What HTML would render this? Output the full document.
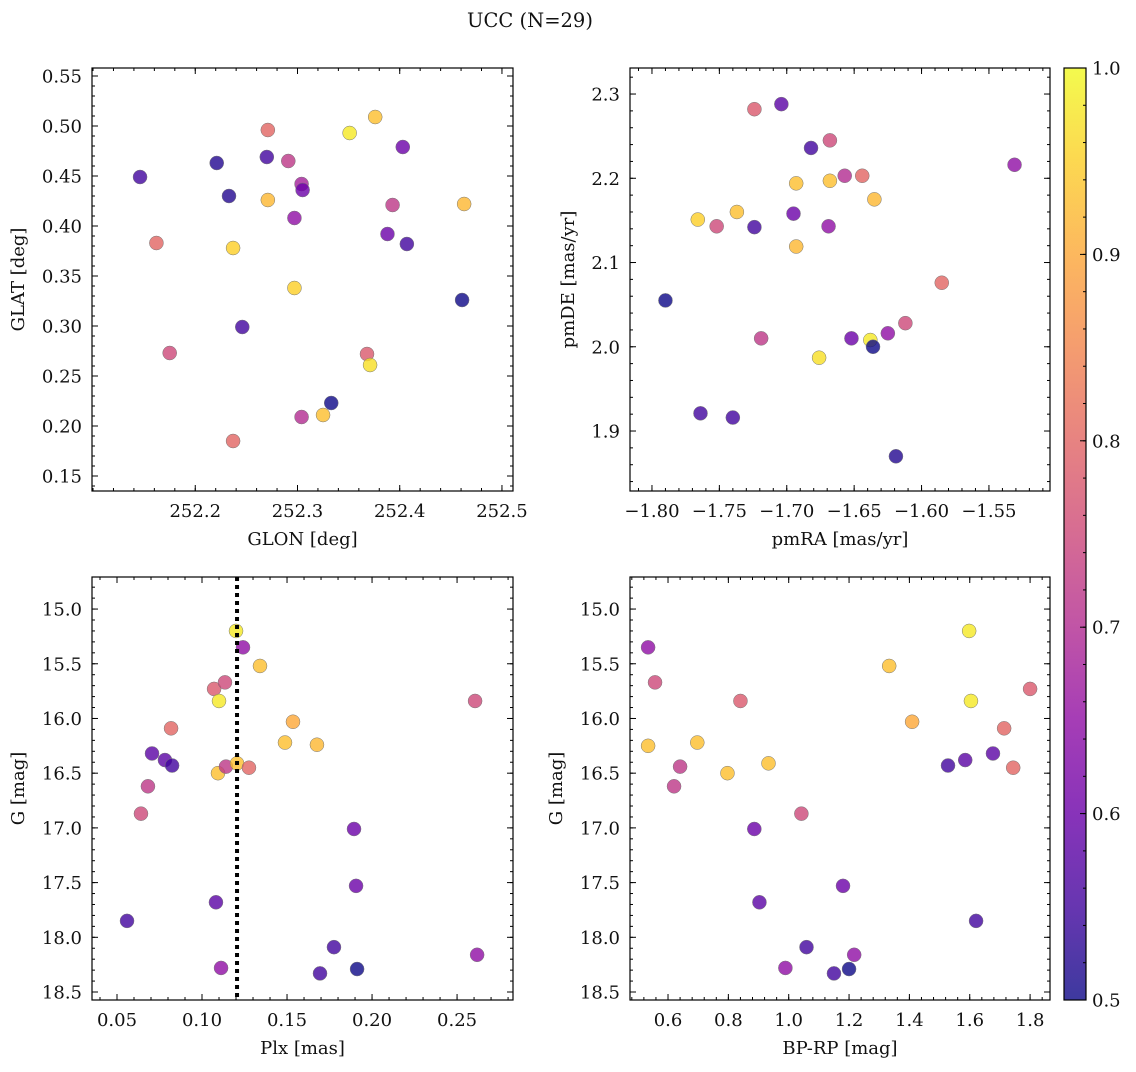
<!DOCTYPE html>
<html><head><meta charset="utf-8"><style>
body{margin:0;background:#fff;}
svg text{font-family:"DejaVu Serif","Liberation Serif",serif;fill:#111;}
</style></head><body>
<svg id="fig" width="1136" height="1067" xmlns="http://www.w3.org/2000/svg">
<text x="530" y="27" font-size="19.5" text-anchor="middle">UCC (N=29)</text>
</svg>
<script>
// ---- data ----
const glon=[252.146,252.162,252.175,252.221,252.233,252.237,252.237,252.246,252.271,252.270,252.271,252.291,252.297,252.297,252.304,252.305,252.304,252.325,252.333,252.351,252.368,252.371,252.376,252.388,252.393,252.403,252.407,252.461,252.463];
const glat=[0.449,0.383,0.273,0.463,0.430,0.378,0.185,0.299,0.496,0.469,0.426,0.465,0.408,0.338,0.442,0.436,0.209,0.211,0.223,0.493,0.272,0.261,0.509,0.392,0.421,0.479,0.382,0.326,0.422];
const prob1=[0.55,0.8,0.75,0.52,0.52,0.95,0.8,0.55,0.8,0.55,0.92,0.72,0.65,0.95,0.68,0.6,0.7,0.93,0.5,0.98,0.78,0.97,0.93,0.6,0.72,0.6,0.55,0.5,0.92];
const pmra=[-1.790,-1.766,-1.764,-1.752,-1.737,-1.740,-1.724,-1.724,-1.704,-1.719,-1.695,-1.693,-1.693,-1.676,-1.669,-1.668,-1.668,-1.682,-1.657,-1.652,-1.644,-1.635,-1.638,-1.636,-1.625,-1.619,-1.612,-1.585,-1.531];
const pmde=[2.055,2.151,1.921,2.143,2.16,1.916,2.282,2.142,2.288,2.01,2.158,2.194,2.119,1.987,2.143,2.245,2.197,2.236,2.203,2.01,2.203,2.175,2.008,2.0,2.016,1.87,2.028,2.076,2.216];
const prob2=[0.5,0.95,0.55,0.75,0.93,0.55,0.78,0.55,0.58,0.72,0.6,0.93,0.92,0.97,0.65,0.75,0.93,0.55,0.7,0.6,0.8,0.92,0.98,0.5,0.65,0.52,0.75,0.8,0.65];
const plx=[0.0559,0.0641,0.0682,0.0706,0.0782,0.0818,0.0824,0.1071,0.1082,0.110,0.1094,0.1112,0.1135,0.1141,0.120,0.1206,0.1241,0.1276,0.1341,0.1488,0.1535,0.1676,0.1694,0.1776,0.1894,0.1906,0.1912,0.2606,0.2618];
const gmag3=[17.85,16.87,16.62,16.32,16.38,16.09,16.43,15.73,17.68,15.84,16.5,18.28,15.67,16.44,15.2,16.41,15.35,16.45,15.52,16.22,16.03,16.24,18.33,18.09,17.01,17.53,18.29,15.84,18.16];
const prob3=[0.55,0.75,0.72,0.58,0.58,0.8,0.55,0.78,0.58,0.98,0.93,0.65,0.75,0.72,0.98,0.93,0.65,0.8,0.93,0.93,0.9,0.92,0.55,0.55,0.6,0.6,0.5,0.75,0.65];
const plxRef=[0.1206];
const bprp=[0.534,0.534,0.557,0.620,0.640,0.697,0.797,0.840,0.886,0.903,0.933,0.989,1.042,1.059,1.150,1.180,1.200,1.217,1.333,1.409,1.528,1.585,1.598,1.604,1.621,1.677,1.714,1.744,1.800];
const gmag4=[15.35,16.25,15.67,16.62,16.44,16.22,16.5,15.84,17.01,17.68,16.41,18.28,16.87,18.09,18.33,17.53,18.29,18.16,15.52,16.03,16.43,16.38,15.2,15.84,17.85,16.32,16.09,16.45,15.73];
const prob4=[0.65,0.93,0.75,0.72,0.72,0.93,0.93,0.78,0.6,0.58,0.93,0.65,0.75,0.55,0.55,0.6,0.5,0.65,0.93,0.9,0.55,0.58,0.98,0.98,0.55,0.58,0.8,0.8,0.78];
const t1x=[252.2,252.3,252.4,252.5], t1y=[0.15,0.2,0.25,0.3,0.35,0.4,0.45,0.5,0.55];
const t2x=[-1.8,-1.75,-1.7,-1.65,-1.6,-1.55], t2y=[1.9,2.0,2.1,2.2,2.3];
const t3x=[0.05,0.1,0.15,0.2,0.25], tgy=[15.0,15.5,16.0,16.5,17.0,17.5,18.0,18.5];
const t4x=[0.6,0.8,1.0,1.2,1.4,1.6,1.8];
const tcb=[0.5,0.6,0.7,0.8,0.9,1.0];

const NS="http://www.w3.org/2000/svg";
const svg=document.getElementById('fig');
const FS=18;
function mk(tag,attrs,parent){const e=document.createElementNS(NS,tag);for(const k in attrs)e.setAttribute(k,attrs[k]);(parent||svg).appendChild(e);return e;}
const stops=['#0d0887','#41049d','#6a00a8','#8f0da4','#b12a90','#cc4778','#e16462','#f2844b','#fca636','#fcce25','#f0f921'];
function hex(h){return [1,3,5].map(i=>parseInt(h.substr(i,2),16));}
function cmap(v){let t=(v-0.5)/0.5;t=Math.max(0,Math.min(1,t))*10;const i=Math.min(9,Math.floor(t)),f=t-i;const a=hex(stops[i]),b=hex(stops[i+1]);return 'rgb('+a.map((x,k)=>Math.round(x+(b[k]-x)*f)).join(',')+')';}
function fmt(v,d){return v.toFixed(d).replace('-','\u2212');}

function panel(o){
  const g=mk('g',{});
  
  
  const L=o.x0,R=o.x1,T=o.y0,B=o.y1;
  const sx=v=>L+(v-o.xr[0])/(o.xr[1]-o.xr[0])*(R-L);
  const sy=v=>o.inv? T+(v-o.yr[0])/(o.yr[1]-o.yr[0])*(B-T) : B-(v-o.yr[0])/(o.yr[1]-o.yr[0])*(B-T);
  for(let i=0;i<o.xs.length;i++){
    const c=mk('circle',{cx:sx(o.xs[i]),cy:sy(o.ys[i]),r:7,fill:cmap(o.cs[i]),'fill-opacity':0.8,stroke:'#777','stroke-width':0.5},g);
    
    
  }
  if(o.vline){const l=mk('line',{x1:sx(o.vline),x2:sx(o.vline),y1:T,y2:B,stroke:'#000','stroke-width':4,'stroke-dasharray':'4,4'},g);
    }
  const fr=mk('rect',{x:L,y:T,width:R-L,height:B-T,fill:'none',stroke:'#000','stroke-width':1.2},g);
  
  const lo=Math.min(...o.xr),hi=Math.max(...o.xr);
  for(let v=Math.ceil(lo/o.mx-1e-6)*o.mx;v<=hi+1e-9;v+=o.mx){const x=sx(v);mk('line',{x1:x,x2:x,y1:B,y2:B-3,stroke:'#000'},g);mk('line',{x1:x,x2:x,y1:T,y2:T+3,stroke:'#000'},g);}
  const ylo=Math.min(...o.yr),yhi=Math.max(...o.yr);
  for(let v=Math.ceil(ylo/o.my-1e-6)*o.my;v<=yhi+1e-9;v+=o.my){const y=sy(v);mk('line',{x1:L,x2:L+3,y1:y,y2:y,stroke:'#000'},g);mk('line',{x1:R,x2:R-3,y1:y,y2:y,stroke:'#000'},g);}
  for(const v of o.tx){const x=sx(v);mk('line',{x1:x,x2:x,y1:B,y2:B-6,stroke:'#000'},g);mk('line',{x1:x,x2:x,y1:T,y2:T+6,stroke:'#000'},g);
    const t=mk('text',{x:x,y:B+26,'font-size':FS,'text-anchor':'middle'},g);t.textContent=fmt(v,o.dx);
    }
  for(const v of o.ty){const y=sy(v);mk('line',{x1:L,x2:L+6,y1:y,y2:y,stroke:'#000'},g);mk('line',{x1:R,x2:R-6,y1:y,y2:y,stroke:'#000'},g);
    const t=mk('text',{x:L-10,y:y+6.5,'font-size':FS,'text-anchor':'end'},g);t.textContent=fmt(v,o.dy);
    }
  const xl=mk('text',{x:(L+R)/2,y:B+54,'font-size':FS,'text-anchor':'middle'},g);xl.textContent=o.xlab;
  
  const yx=o.ylx;const yl=mk('text',{x:yx,y:(T+B)/2,'font-size':FS,'text-anchor':'middle',transform:`rotate(-90 ${yx} ${(T+B)/2})`},g);yl.textContent=o.ylab;
  
}
panel({name:'glon-glat-panel',x0:92,x1:513,y0:68,y1:491,xr:[252.099,252.5108],yr:[0.135,0.558],xs:glon,ys:glat,cs:prob1,tx:t1x,ty:t1y,dx:1,dy:2,mx:0.02,my:0.01,xlab:'GLON [deg]',ylab:'GLAT [deg]',ylx:24});
panel({name:'proper-motion-panel',x0:630,x1:1050,y0:68,y1:491,xr:[-1.8163,-1.5047],yr:[1.8288,2.3309],xs:pmra,ys:pmde,cs:prob2,tx:t2x,ty:t2y,dx:2,dy:1,mx:0.01,my:0.02,xlab:'pmRA [mas/yr]',ylab:'pmDE [mas/yr]',ylx:574});
panel({name:'parallax-g-panel',x0:92,x1:513,y0:577,y1:1000,xr:[0.0353,0.2829],yr:[14.707,18.573],inv:true,xs:plx,ys:gmag3,cs:prob3,tx:t3x,ty:tgy,dx:2,dy:1,mx:0.01,my:0.1,xlab:'Plx [mas]',ylab:'G [mag]',ylx:24,vline:plxRef[0]});
panel({name:'cmd-panel',x0:630,x1:1050,y0:577,y1:1000,xr:[0.474,1.866],yr:[14.707,18.573],inv:true,xs:bprp,ys:gmag4,cs:prob4,tx:t4x,ty:tgy,dx:1,dy:1,mx:0.04,my:0.1,xlab:'BP-RP [mag]',ylab:'G [mag]',ylx:562});

const cb=mk('g',{});


const defs=mk('defs',{},cb);
const lg=mk('linearGradient',{id:'cbg',x1:0,y1:1,x2:0,y2:0},defs);
stops.forEach((s,i)=>mk('stop',{offset:i/10,'stop-color':s,'stop-opacity':0.8},lg));
mk('rect',{x:1064,y:68,width:22,height:932,fill:'url(#cbg)',stroke:'#000','stroke-width':1.2},cb);
const cy=v=>1000-(v-0.5)/0.5*932;
for(let v=0.5;v<=1.0001;v+=0.02){mk('line',{x1:1086,x2:1083,y1:cy(v),y2:cy(v),stroke:'#000'},cb);}
for(const v of tcb){mk('line',{x1:1086,x2:1080,y1:cy(v),y2:cy(v),stroke:'#000'},cb);
  const t=mk('text',{x:1092,y:cy(v)+6.5,'font-size':FS},cb);t.textContent=v.toFixed(1);
  }
</script>
</body></html>
